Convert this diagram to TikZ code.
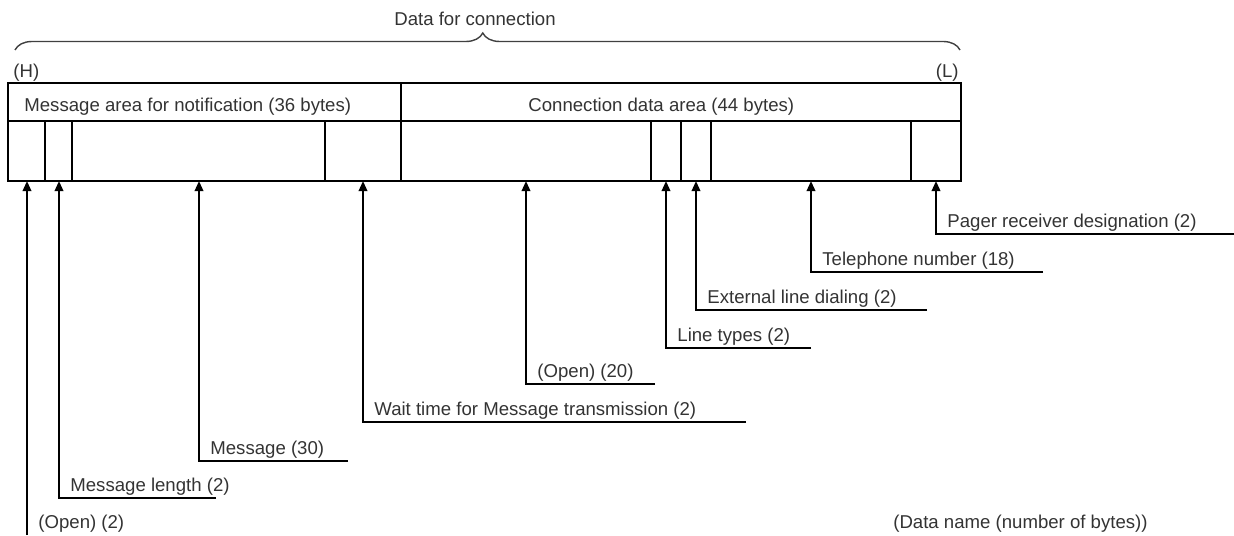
\documentclass[tikz,border=0pt]{standalone}
\usepackage{fontspec}
\setmainfont{Liberation Sans}
\usetikzlibrary{arrows.meta,decorations.pathreplacing}
\definecolor{dtext}{HTML}{333333}
\definecolor{dbrace}{HTML}{404040}

\begin{document}
\begin{tikzpicture}[x=0.5pt, y=-0.5pt, >={Triangle[length=5pt,width=4.2pt]},
  font=\fontsize{9.3}{11}\selectfont,
  frame/.style={line width=1.35pt},
  lead/.style={line width=1.05pt, ->},
  lbl/.style={text=dtext, inner sep=0pt, anchor=base west}]
  \useasboundingbox (0,0) rectangle (1234,535);

  % the data block
  \coordinate (NW) at (8,83);
  \coordinate (SE) at (961,181);
  \draw[frame] (NW) rectangle (SE);
  \draw[frame] (8,121) -- (961,121);
  \draw[frame] (401,83) -- (401,181);
  \foreach \x in {45,72,325,651,681,711,911}
    \draw[frame] (\x,121) -- (\x,181);

  % area titles and byte order
  \node[lbl] (msgarea) at (24,112) {Message area for notification (36 bytes)};
  \node[lbl] (conarea) at (528,112) {Connection data area (44 bytes)};
  \node[lbl] (hi) at (13,77) {(H)};
  \node[lbl, anchor=base east] (lo) at (959,77) {(L)};

  % brace over the whole block
  \draw[dbrace, line width=0.7pt, decorate,
        decoration={brace, amplitude=8.5pt, aspect=0.495}] (15,50) -- (960,50);
  \node[lbl, anchor=base] (dfc) at (475,26) {Data for connection};

  % first field: plain leader from the bottom edge
  \coordinate (t1) at (27,181);
  \coordinate (c1) at (27,535);
  \draw[lead] (c1) -- (t1);
  \node[lbl] (l1) at (38,528) {(Open) (2)};

  % the other fields: leader with a shelf under the label
  \foreach \i/\x/\y/\xe/\txt in {
      2/59/498/216/Message length (2),
      3/199/461/348/Message (30),
      4/363/422/746/Wait time for Message transmission (2),
      5/526/384/655/(Open) (20),
      6/666/348/811/Line types (2),
      7/696/310/927/External line dialing (2),
      8/811/272/1043/Telephone number (18),
      9/936/234/1234/Pager receiver designation (2)} {
    \coordinate (t\i) at (\x,181);
    \coordinate (c\i) at (\x,\y);
    \coordinate (e\i) at (\xe,\y);
    \draw[lead] (e\i) -- (c\i) -- (t\i);
    \node[lbl] (l\i) at (\x+11,\y-7) {\txt};
  }

  % key
  \node[lbl, anchor=base east] (key) at (1148,528) {(Data name (number of bytes))};
\end{tikzpicture}
\end{document}
